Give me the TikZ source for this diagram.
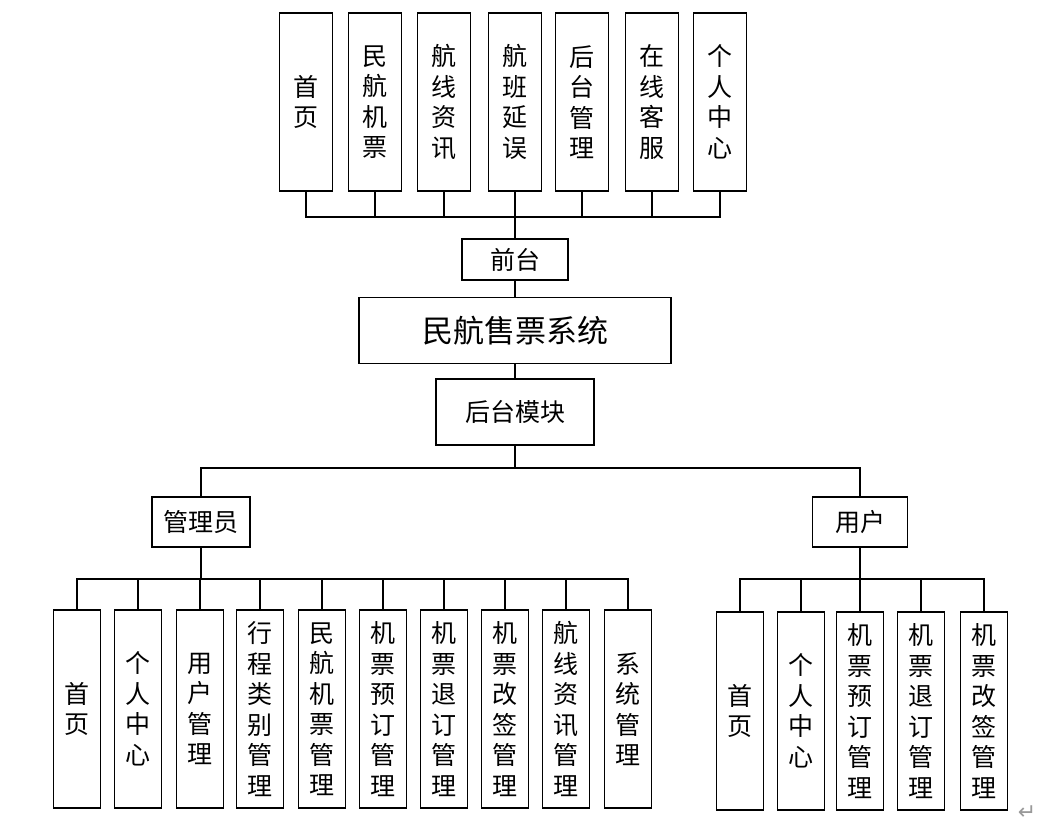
\documentclass[tikz,border=0pt]{standalone}
\usepackage{fontspec}
\newfontfamily\cjk{Noto Sans CJK SC}
\newfontfamily\symfont{DejaVu Sans}
\begin{document}
\begin{tikzpicture}[x=1pt,y=-1pt,line width=1.3pt,
    box/.style={draw,inner sep=0pt,align=center,font=\cjk\fontsize{25}{30.5}\selectfont},
    topbox/.style={box,minimum width=53pt,minimum height=178pt},
    leaf/.style={box,minimum width=47pt,minimum height=198pt}]
  \useasboundingbox (0,0) rectangle (1055,834);
  \coordinate (topbus) at (0,217);
  \coordinate (mbus) at (0,468);
  \coordinate (abus) at (0,579);
  \foreach \x/\t [count=\i] in {306/首\\页,375/民\\航\\机\\票,444/航\\线\\资\\讯,515/航\\班\\延\\误,
      582/后\\台\\管\\理,652/在\\线\\客\\服,720/个\\人\\中\\心}
    \node[topbox] (t\i) at (\x,102) {\t};
  \node[box,minimum width=106pt,minimum height=41pt] (qt) at (515,259.5) {前台};
  \node[box,minimum width=312pt,minimum height=66pt,font=\cjk\fontsize{31}{36}\selectfont] (sys) at (515,330.7) {民航售票系统};
  \node[box,minimum width=158pt,minimum height=66pt] (ht) at (515,412) {后台模块};
  \node[box,minimum width=98pt,minimum height=50pt] (gly) at (201,522) {管理员};
  \node[box,minimum width=95pt,minimum height=50pt] (yh) at (860,522) {用户};
  \foreach \x/\t [count=\i] in {77/首\\页,138/个\\人\\中\\心,200/用\\户\\管\\理,260/行\\程\\类\\别\\管\\理,
      322/民\\航\\机\\票\\管\\理,383/机\\票\\预\\订\\管\\理,444/机\\票\\退\\订\\管\\理,
      505/机\\票\\改\\签\\管\\理,566/航\\线\\资\\讯\\管\\理,628/系\\统\\管\\理}
    \node[leaf] (a\i) at (\x,709) {\t};
  \foreach \x/\t [count=\i] in {740/首\\页,801/个\\人\\中\\心,860/机\\票\\预\\订\\管\\理,
      921/机\\票\\退\\订\\管\\理,984/机\\票\\改\\签\\管\\理}
    \node[leaf] (u\i) at (\x,711) {\t};
  \foreach \i in {1,...,7}
    \draw (t\i.south) |- (qt.north |- topbus);
  \draw (qt.north) -- (qt.north |- topbus);
  \draw (qt) -- (sys) -- (ht);
  \draw (ht.south) -- (ht.south |- mbus);
  \draw (gly.north) |- (ht.south |- mbus);
  \draw (yh.north) |- (ht.south |- mbus);
  \draw (gly.south) -- (gly.south |- abus);
  \foreach \i in {1,...,10}
    \draw (a\i.north) |- (gly.south |- abus);
  \draw (yh.south) -- (yh.south |- abus);
  \foreach \i in {1,...,5}
    \draw (u\i.north) |- (yh.south |- abus);
  \node[text=gray!80,font=\symfont\fontsize{22}{22}\selectfont] (ret) at (1027,813) {↵};
\end{tikzpicture}
\end{document}
